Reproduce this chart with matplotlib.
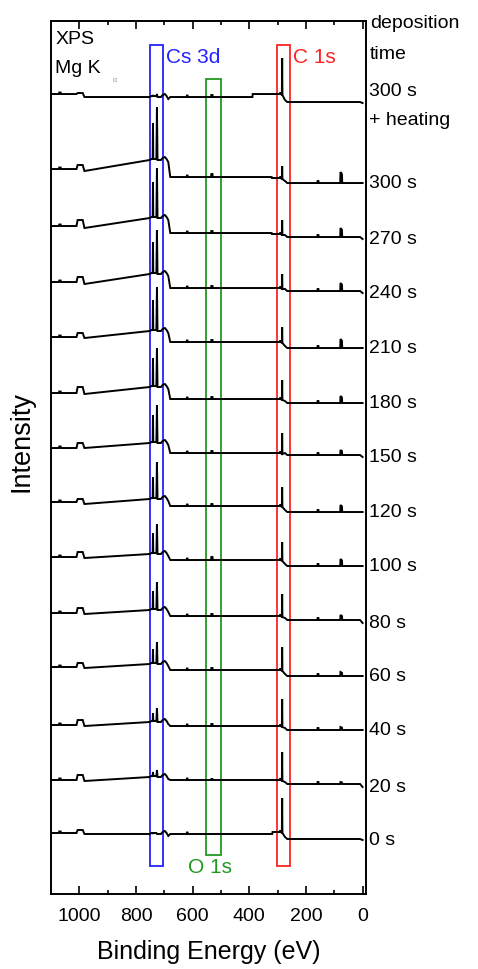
import matplotlib
matplotlib.use('Agg')
import matplotlib.pyplot as plt
from matplotlib.patches import Rectangle
from matplotlib.ticker import MultipleLocator

plt.rcParams['font.family'] = ['Liberation Sans', 'DejaVu Sans']

# deposition times, top (after heating) to bottom
labels = ['300 s', '300 s', '270 s', '240 s', '210 s', '180 s', '150 s',
          '120 s', '100 s', '80 s', '60 s', '40 s', '20 s', '0 s']

# stacking offset of each spectrum (level at 0 eV), arb. units
offsets = [791, 711, 655, 601, 546, 491, 437, 382, 328, 271, 218, 164, 107, 54]

# background levels relative to the 0 eV end
lvl_left = [9, 14, 13, 11, 11, 10, 9, 10, 9, 10, 9, 5, 7, 7]      # 1100 eV
lvl_bump = [10, 18, 19, 16, 15, 16, 14, 13, 14, 15, 13, 10, 12, 10]  # ~1000 eV
lvl_drop = [6, 12, 11, 9, 10, 9, 9, 8, 8, 9, 8, 4, 6, 6]           # 980 eV
lvl_cs = [6, 23, 21, 19, 17, 16, 14, 13, 12, 13, 12, 8, 10, 6]      # 752 eV
lvl_mid = [6, 6, 6, 5, 6, 4, 4, 6, 6, 7, 6, 4, 7, 6]               # 680 eV
lvl_pre = [9, 5, 5, 5, 6, 4, 4, 6, 6, 7, 6, 4, 7, 8]               # 300 eV
lvl_post = [1, 0, 2, 2, 0, 0, 2, 0, 0, 3, 0, 0, 3, 1]              # 260 eV
step_e = [388, 320, 320, 320, 320, 320, 320, 320, 320, 320, 320, 320, 320, 318]

# peak heights above local background
cs3d52 = [3, 53, 50, 44, 44, 39, 38, 37, 30, 28, 22, 14, 7, 0]
cs3d32 = [2, 37, 36, 32, 31, 29, 28, 22, 21, 19, 15, 9, 5, 0]
c1s = [36, 12, 14, 14, 15, 19, 20, 19, 18, 22, 23, 27, 28, 34]
cs4d = [0, 11, 9, 8, 9, 7, 5, 7, 7, 5, 4, 3, 2, 0]
o1s = [2, 3, 2, 2, 2, 2, 2, 2, 3, 2, 2, 2, 1, 0]

x_ticks = [1000, 800, 600, 400, 200, 0]

boxes = [  # (E low, E high, bottom, top, colour)
    (704, 751, 28, 849, '#2222ff'),
    (500, 554, 39, 815, '#229922'),
    (257, 303, 28, 849, '#ff2222'),
]


def spectrum(i):
    L, B, D = lvl_left[i], lvl_bump[i], lvl_drop[i]
    C, A, P, Q = lvl_cs[i], lvl_mid[i], lvl_pre[i], lvl_post[i]
    pts = [
        (1100, L), (1072, L), (1071, L + 1.5), (1066, L + 1.5), (1065, L),
        (1010, L), (1006, B), (988, B), (982, D),
        (752, C), (745, C + 1), (741, C + 1), (740, C + cs3d32[i]),
        (739, C + 1), (728, C + 1), (726, C + cs3d52[i]), (724, C),
        (712, C), (706, C + 2), (698, C + 3), (692, C + 1),
        (686, C - 2), (679, A),
        (621, A), (620, A + 1.5), (618, A + 1.5), (617, A),
        (535, A), (534, A + o1s[i]), (530, A + o1s[i]), (529, A),
        (step_e[i] + 1, A), (step_e[i], P),
        (293, P), (291, P + 1.5), (288, P), (285, P - 1),
        (284, P + c1s[i]), (283, P - 1), (274, Q + 2), (266, Q),
        (160, Q), (159, Q + min(2, cs4d[i])), (156, Q + min(2, cs4d[i])),
        (155, Q), (79, Q), (78, Q + cs4d[i]), (73, Q + 0.8 * cs4d[i]),
        (72, Q), (9, Q), (0, 0),
    ]
    e = [p[0] for p in pts]
    y = [p[1] + offsets[i] for p in pts]
    return e, y


fig = plt.figure(figsize=(4.78, 9.69), dpi=100)
ax = fig.add_axes([0.1067, 0.0774, 0.659, 0.9009])

for i in range(len(labels)):
    e, y = spectrum(i)
    ax.plot(e, y, color='black', lw=1.4, solid_joinstyle='miter')

for lo, hi, b, t, col in boxes:
    ax.add_patch(Rectangle((lo, b), hi - lo, t - b, fill=False,
                           edgecolor=col, lw=1.3))

ax.set_xlim(1100, -12)
ax.set_ylim(0, 873)

ax.xaxis.set_major_locator(MultipleLocator(200))
ax.xaxis.set_minor_locator(MultipleLocator(100))
ax.set_xticks(x_ticks)
ax.set_xticklabels([str(v) for v in x_ticks], fontsize=14)
ax.tick_params(axis='x', which='both', direction='in', top=True,
               width=1.2, pad=10)
ax.tick_params(axis='x', which='major', length=6)
ax.tick_params(axis='x', which='minor', length=3)
ax.set_yticks([])
for s in ax.spines.values():
    s.set_linewidth(1.4)

ax.set_xlabel('Binding Energy (eV)', fontsize=18, labelpad=11)
ax.set_ylabel('Intensity', fontsize=19.5)
ax.yaxis.set_label_coords(-0.051, 0.518)

# right hand labels
tr = ax.get_yaxis_transform()
for i, lab in enumerate(labels):
    if i == 0:
        continue
    ax.text(1.01, offsets[i], lab, transform=tr, fontsize=14,
            ha='left', va='center', clip_on=False)
ax.text(1.012, 0.9966, 'deposition', transform=ax.transAxes, fontsize=14,
        ha='left', va='center')
ax.text(1.012, 0.9622, 'time', transform=ax.transAxes, fontsize=14,
        ha='left', va='center')
ax.text(1.01, 0.9187, '300 s', transform=ax.transAxes, fontsize=14,
        ha='left', va='center')
ax.text(1.01, 0.8866, '+ heating', transform=ax.transAxes, fontsize=14,
        ha='left', va='center')

ax.text(0.013, 0.979, 'XPS', transform=ax.transAxes, fontsize=14,
        ha='left', va='center')
ax.text(0.013, 0.946, 'Mg K', transform=ax.transAxes, fontsize=14,
        ha='left', va='center')
ax.text(0.195, 0.932, 'α', transform=ax.transAxes, fontsize=5,
        color='#999999', ha='left', va='center')

ax.text(0.365, 0.958, 'Cs 3d', transform=ax.transAxes, fontsize=15,
        color='#2222ff', ha='left', va='center')
ax.text(0.768, 0.958, 'C 1s', transform=ax.transAxes, fontsize=15,
        color='#ff2222', ha='left', va='center')
ax.text(0.435, 0.0298, 'O 1s', transform=ax.transAxes, fontsize=15,
        color='#229922', ha='left', va='center')

fig.savefig('out.png', dpi=100)
